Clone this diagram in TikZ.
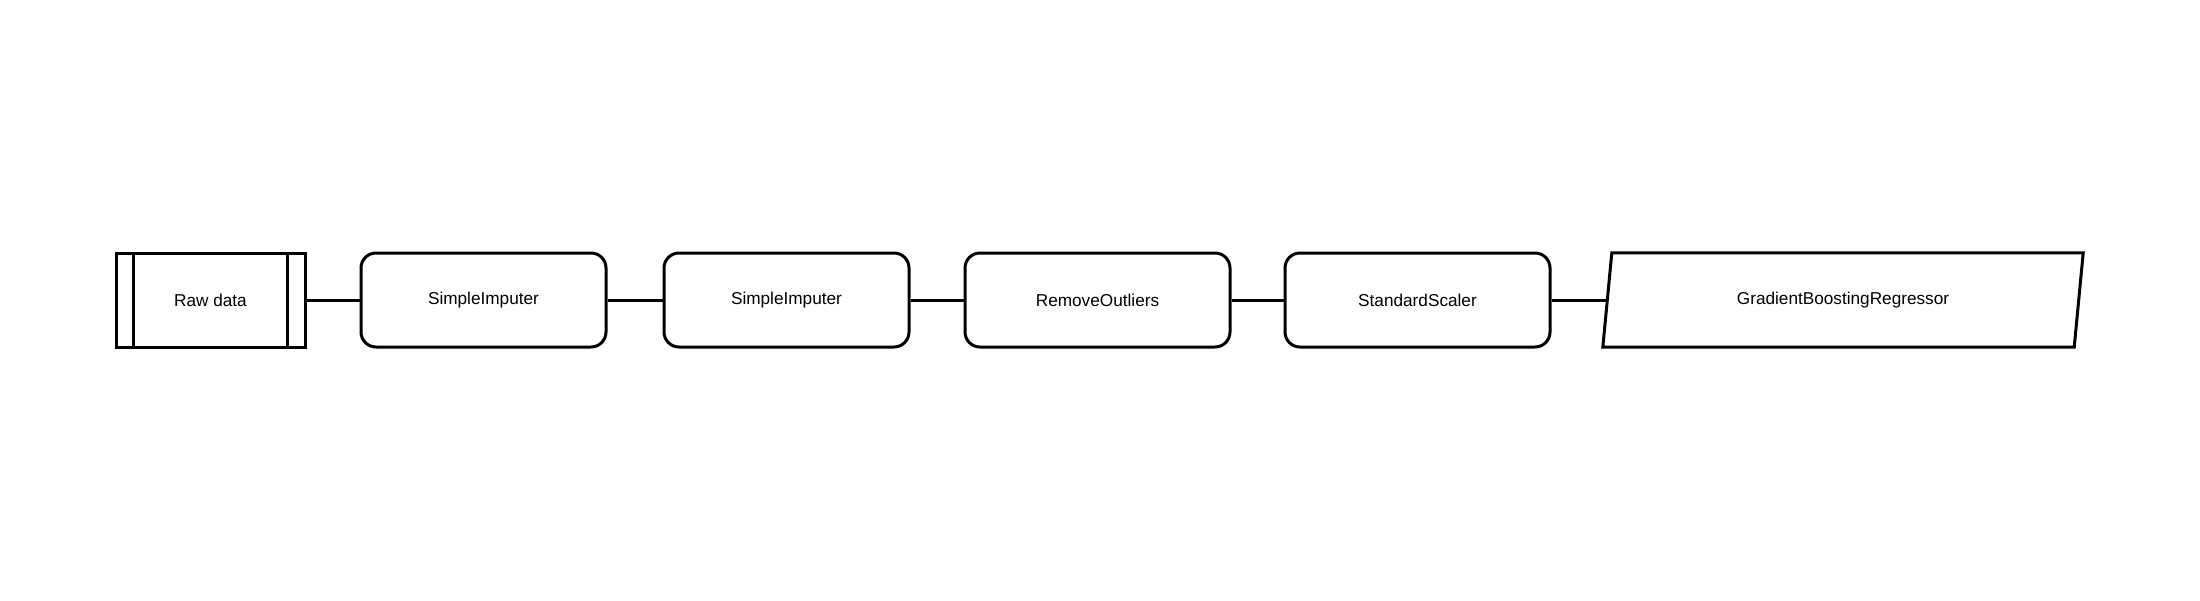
\documentclass[tikz,border=0pt]{standalone}
\usepackage{fontspec}
\setmainfont{Liberation Sans}
\begin{document}
\begin{tikzpicture}[x=1pt,y=-1pt,
  every node/.style={font=\fontsize{17.2}{20}\selectfont},
  stage/.style={draw=black,line width=3pt,rounded corners=15pt,minimum height=94pt,inner sep=0pt,anchor=center},
  plain/.style={draw=black,line width=3pt,minimum height=94pt,inner sep=0pt,anchor=center},
  conn/.style={draw=black,line width=3pt},
  edge/.style={line width=3pt}]
\useasboundingbox (0,0) rectangle (2200,600);
\node[plain,minimum width=189pt] (raw) at (210.5,300) {Raw data};
\draw[edge] ([xshift=19pt]raw.north west) -- ([xshift=19pt]raw.south west);
\draw[edge] ([xshift=-19pt]raw.north east) -- ([xshift=-19pt]raw.south east);
\node[stage,minimum width=245pt] (si1) at (483.5,300) {SimpleImputer};
\node[stage,minimum width=245pt] (si2) at (786.5,300) {SimpleImputer};
\node[stage,minimum width=265pt] (ro) at (1097.5,300) {RemoveOutliers};
\node[stage,minimum width=265pt] (ss) at (1417.5,300) {StandardScaler};
\node[minimum width=480pt,minimum height=94pt,inner sep=0pt] (gbr) at (1843,300) {GradientBoostingRegressor};
\draw[edge,line join=miter] ([xshift=9pt]gbr.north west) -- (gbr.north east) -- ([xshift=-9pt]gbr.south east) -- (gbr.south west) -- cycle;
\coordinate (gbrin) at ([xshift=4.5pt]gbr.west);
\draw[conn] (raw.east) -- (si1.west);
\draw[conn] (si1.east) -- (si2.west);
\draw[conn] (si2.east) -- (ro.west);
\draw[conn] (ro.east) -- (ss.west);
\draw[conn] (ss.east) -- (gbrin);
\end{tikzpicture}
\end{document}
